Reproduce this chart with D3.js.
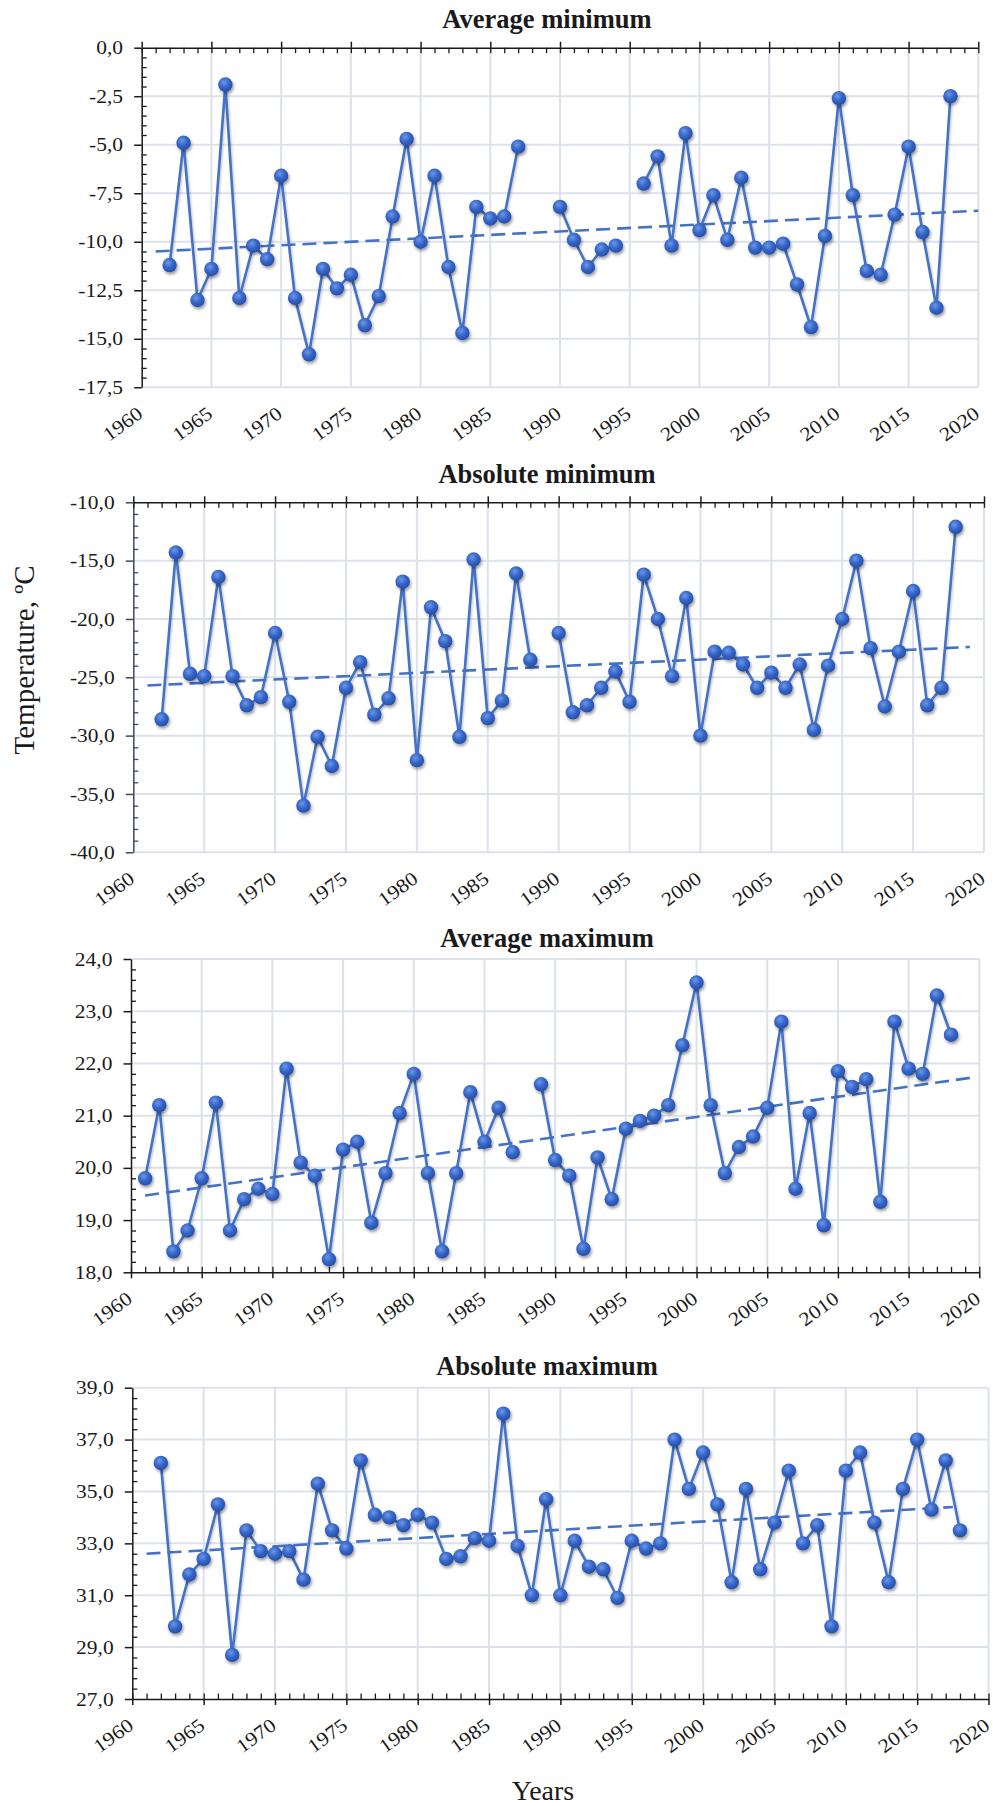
<!DOCTYPE html>
<html><head><meta charset="utf-8">
<script src="https://cdn.jsdelivr.net/npm/d3@7"></script>
<style>
body{margin:0;background:#fff}
svg{display:block}
text{font-family:"Liberation Serif","Times New Roman",serif;fill:#1a1a1a}
</style>
</head><body>
<svg id="c" width="993" height="1806"></svg>
<script>
// ---------- DATA ----------
const years = [1961,1962,1963,1964,1965,1966,1967,1968,1969,1970,
  1971,1972,1973,1974,1975,1976,1977,1978,1979,1980,
  1981,1982,1983,1984,1985,1986,1987,1988,1989,1990,
  1991,1992,1993,1994,1995,1996,1997,1998,1999,2000,
  2001,2002,2003,2004,2005,2006,2007,2008,2009,2010,
  2011,2012,2013,2014,2015,2016,2017,2018];

const avgMin = [null,-11.2,-4.9,-13.0,-11.4,-1.9,-12.9,-10.2,-10.9,-6.6,
  -12.9,-15.8,-11.4,-12.4,-11.7,-14.3,-12.8,-8.7,-4.7,-10.0,
  -6.6,-11.3,-14.7,-8.2,-8.8,-8.7,-5.1,null,null,-8.2,
  -9.9,-11.3,-10.4,-10.2,null,-7.0,-5.6,-10.2,-4.4,-9.4,
  -7.6,-9.9,-6.7,-10.3,-10.3,-10.1,-12.2,-14.4,-9.7,-2.6,
  -7.6,-11.5,-11.7,-8.6,-5.1,-9.5,-13.4,-2.5];

const absMin = [null,-28.6,-14.3,-24.7,-24.9,-16.4,-24.9,-27.4,-26.7,-21.2,
  -27.1,-36.0,-30.1,-32.6,-25.9,-23.7,-28.2,-26.8,-16.8,-32.1,
  -19.0,-21.9,-30.1,-14.9,-28.5,-27.0,-16.1,-23.5,null,-21.2,
  -28.0,-27.4,-25.9,-24.5,-27.1,-16.2,-20.0,-24.9,-18.2,-30.0,
  -22.8,-22.9,-23.9,-25.9,-24.6,-25.9,-23.9,-29.5,-24.0,-20.0,
  -15.0,-22.5,-27.5,-22.8,-17.6,-27.4,-25.9,-12.1];

const avgMax = [19.8,21.2,18.4,18.8,19.8,21.25,18.8,19.4,19.6,19.5,
  21.9,20.1,19.85,18.25,20.35,20.5,18.95,19.9,21.05,21.8,
  19.9,18.4,19.9,21.45,20.5,21.15,20.3,null,21.6,20.15,
  19.85,18.45,20.2,19.4,20.75,20.9,21.0,21.2,22.35,23.55,
  21.2,19.9,20.4,20.6,21.15,22.8,19.6,21.05,18.9,21.85,
  21.55,21.7,19.35,22.8,21.9,21.8,23.3,22.55];

const absMax = [null,36.1,29.8,31.8,32.4,34.5,28.7,33.5,32.7,32.6,
  32.7,31.6,35.3,33.5,32.8,36.2,34.1,34.0,33.7,34.1,
  33.8,32.4,32.5,33.2,33.1,38.0,32.9,31.0,34.7,31.0,
  33.1,32.1,32.0,30.9,33.1,32.8,33.0,37.0,35.1,36.5,
  34.5,31.5,35.1,32.0,33.8,35.8,33.0,33.7,29.8,35.8,
  36.5,33.8,31.5,35.1,37.0,34.3,36.2,33.5];

const titles = ["Average minimum","Absolute minimum","Average maximum","Absolute maximum"];
const yDomains = [[-17.5,0],[-40,-10],[18,24],[27,39]];
const yMajorSteps = [2.5,5,1,2];
const yMinorSteps = [0.5,1,0.2,0.4];
const xTickYears = [1960,1965,1970,1975,1980,1985,1990,1995,2000,2005,2010,2015,2020];
const trendYears = [[1961,2020],[1961,2019],[1961,2019.5],[1961,2017.5]];
const trendValues = [[-10.5,-8.4],[-25.7,-22.4],[19.47,21.73],[32.6,34.4]];
const yAxisTitle = "Temperature, ºC";
const xAxisTitle = "Years";

const series = [avgMin, absMin, avgMax, absMax];

// ---------- LAYOUT ----------
const layout = [
  {left:141.7,right:978.3,top:47.7,bottom:387.3,axisTop:true,titleY:28,axisColor:"#1a1a1a"},
  {left:133.3,right:984,top:502.3,bottom:852.3,axisTop:true,titleY:483,axisColor:"#3b4a66"},
  {left:131,right:979.3,top:959,bottom:1272.3,axisTop:false,titleY:947,axisColor:"#1a1a1a"},
  {left:132.3,right:988.5,top:1387.7,bottom:1699,axisTop:false,titleY:1375,axisColor:"#1a1a1a"}
];

const loc = d3.formatLocale({decimal:",",thousands:".",grouping:[3],currency:["",""],minus:"-"});
const fmt = loc.format(".1f");

const svg = d3.select("#c");
const defs = svg.append("defs");
const grad = defs.append("radialGradient").attr("id","mk").attr("cx","40%").attr("cy","35%").attr("r","65%");
grad.append("stop").attr("offset","0%").attr("stop-color","#6c97e8");
grad.append("stop").attr("offset","55%").attr("stop-color","#3565c8");
grad.append("stop").attr("offset","100%").attr("stop-color","#264fa8");
const f = defs.append("filter").attr("id","sh").attr("x","-50%").attr("y","-50%").attr("width","200%").attr("height","200%");
f.append("feDropShadow").attr("dx",1.2).attr("dy",2.2).attr("stdDeviation",1.7).attr("flood-color","#000").attr("flood-opacity",0.4);
const f2 = defs.append("filter").attr("id","lsh").attr("x","-5%").attr("y","-5%").attr("width","110%").attr("height","110%");
f2.append("feDropShadow").attr("dx",1).attr("dy",1.5).attr("stdDeviation",1.2).attr("flood-color","#000").attr("flood-opacity",0.25);

const LINE = "#4472c4";
const GRID = "#dce1ea";
const SERIF = '"Liberation Serif","Times New Roman",serif';

function steps(d0, d1, s){
  const n = Math.round((d1-d0)/s);
  return d3.range(0, n+1).map(i => +(d0 + i*s).toFixed(4));
}

layout.forEach((L, p) => {
  const x = d3.scaleLinear().domain([1960,2020]).range([L.left, L.right]);
  const y = d3.scaleLinear().domain(yDomains[p]).range([L.bottom, L.top]);
  const g = svg.append("g");
  const majors = steps(yDomains[p][0], yDomains[p][1], yMajorSteps[p]);
  const minors = steps(yDomains[p][0], yDomains[p][1], yMinorSteps[p]).filter(v => !majors.some(m => Math.abs(m-v)<1e-6));
  const axisY = L.axisTop ? L.top : L.bottom;
  const axisVal = L.axisTop ? yDomains[p][1] : yDomains[p][0];

  // grid
  g.append("g").selectAll("line").data(xTickYears.filter(t => t !== 1960)).join("line")
    .attr("x1", d => x(d)).attr("x2", d => x(d)).attr("y1", L.top).attr("y2", L.bottom)
    .attr("stroke", GRID).attr("stroke-width", 2);
  g.append("g").selectAll("line").data(majors.filter(v => v !== axisVal)).join("line")
    .attr("x1", L.left).attr("x2", L.right).attr("y1", d => y(d)).attr("y2", d => y(d))
    .attr("stroke", GRID).attr("stroke-width", 2);

  // title
  g.append("text").attr("x", 547).attr("y", L.titleY).attr("text-anchor","middle")
    .attr("font-size", 26.5).attr("font-weight","bold").text(titles[p]);

  // y axis
  const ya = g.append("g").attr("transform", `translate(${L.left},0)`)
    .call(d3.axisLeft(y).tickValues(majors).tickSize(7.5).tickSizeOuter(0).tickPadding(9).tickFormat(fmt));
  ya.attr("font-family", null).attr("font-size", null);
  ya.selectAll("text").attr("font-size", 19).attr("font-family", SERIF).attr("fill","#1a1a1a")
    .attr("transform","scale(1.13,1)");
  ya.selectAll("path,line").attr("stroke", L.axisColor).attr("stroke-width", 1.5);
  const ym = g.append("g").attr("transform", `translate(${L.left},0)`)
    .call(d3.axisRight(y).tickValues(minors).tickSize(5).tickSizeOuter(0).tickFormat(""));
  ym.select(".domain").remove();
  ym.selectAll("line").attr("stroke", L.axisColor).attr("stroke-width", 1.3);

  // x axis line + ticks
  const allYears = d3.range(1960, 2021);
  const xo = g.append("g").attr("transform", `translate(0,${axisY})`)
    .call((L.axisTop ? d3.axisTop(x) : d3.axisBottom(x)).tickValues(xTickYears).tickSize(6).tickSizeOuter(0).tickFormat(""));
  xo.selectAll("path,line").attr("stroke", "#1a1a1a").attr("stroke-width", 1.5);
  const xi = g.append("g").attr("transform", `translate(0,${axisY})`)
    .call((L.axisTop ? d3.axisBottom(x) : d3.axisTop(x)).tickValues(allYears).tickSize(5.5).tickSizeOuter(0).tickFormat(""));
  xi.select(".domain").remove();
  xi.selectAll("line").attr("stroke", "#1a1a1a").attr("stroke-width", 1.3);

  // x labels (always low)
  const xl = g.append("g").attr("transform", `translate(0,${L.bottom})`)
    .call(d3.axisBottom(x).tickValues(xTickYears).tickSize(0).tickSizeOuter(0).tickFormat(d3.format("d")));
  xl.select(".domain").remove();
  xl.attr("font-family", null).attr("font-size", null);
  xl.selectAll("text").attr("x", 0).attr("y", 0).attr("dy", 0)
    .attr("transform", "translate(2,29) rotate(-36) scale(1.12,1)")
    .attr("text-anchor", "end").attr("font-size", 19.5).attr("font-family", SERIF).attr("fill", "#1a1a1a");

  // trend
  const tdata = trendYears[p].map((yr, i) => ({yr, v: trendValues[p][i]}));
  g.append("path").datum(tdata)
    .attr("d", d3.line().x(d => x(d.yr)).y(d => y(d.v)))
    .attr("fill","none").attr("stroke", LINE).attr("stroke-width", 2.6).attr("stroke-dasharray","14,7");

  // series
  const data = years.map((yr, i) => ({yr, v: series[p][i]}));
  g.append("path").datum(data)
    .attr("d", d3.line().defined(d => d.v != null).x(d => x(d.yr)).y(d => y(d.v)))
    .attr("fill","none").attr("stroke", LINE).attr("stroke-width", 2.6).attr("filter","url(#lsh)");
  g.append("g").selectAll("circle").data(data.filter(d => d.v != null)).join("circle")
    .attr("cx", d => x(d.yr)).attr("cy", d => y(d.v)).attr("r", 7.2)
    .attr("fill","url(#mk)").attr("filter","url(#sh)");
});

// axis titles
svg.append("text").attr("transform","translate(34,660) rotate(-90)").attr("text-anchor","middle")
  .attr("font-size", 29).text(yAxisTitle);
svg.append("text").attr("x", 543).attr("y", 1800).attr("text-anchor","middle")
  .attr("font-size", 28).text(xAxisTitle);
</script>
</body></html>
